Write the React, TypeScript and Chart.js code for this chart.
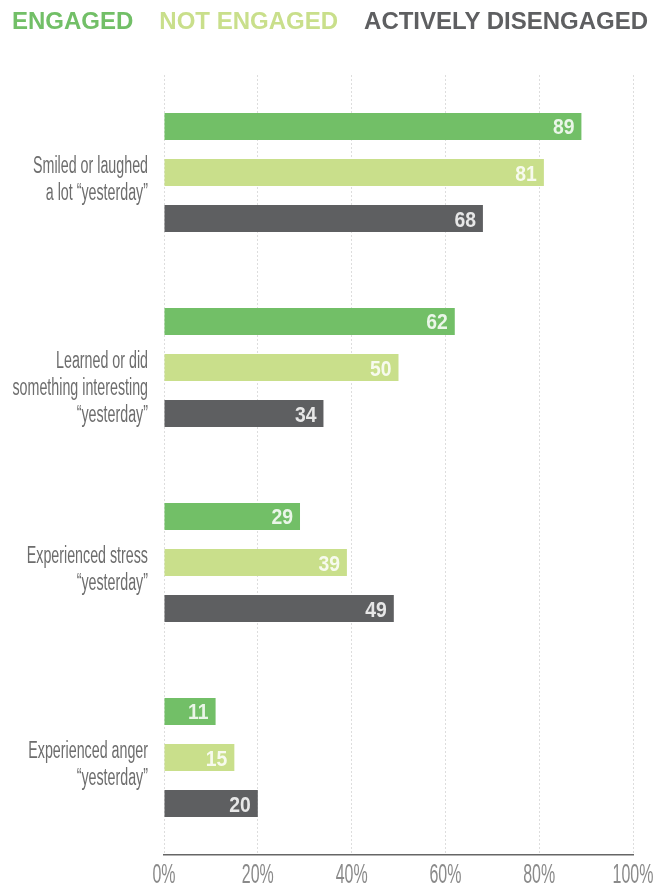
import React, { useEffect, useRef } from "react";
import { Chart, registerables } from "chart.js";

Chart.register(...registerables);

const categories: string[][] = [
  ["Smiled or laughed", "a lot \u201cyesterday\u201d"],
  ["Learned or did", "something interesting", "\u201cyesterday\u201d"],
  ["Experienced stress", "\u201cyesterday\u201d"],
  ["Experienced anger", "\u201cyesterday\u201d"],
];
const engaged = [89, 62, 29, 11];
const notEngaged = [81, 50, 39, 15];
const activelyDisengaged = [68, 34, 49, 20];
const seriesNames = ["ENGAGED", "NOT ENGAGED", "ACTIVELY DISENGAGED"];
const seriesColors = ["#72BF67", "#C9DF8B", "#5E5F61"];
const xTicks = [0, 20, 40, 60, 80, 100];

const SANS = "'Liberation Sans', Arial, sans-serif";

function drawNarrow(ctx: any, text: string, x: number, y: number, align: string, sx: number) {
  ctx.save();
  ctx.translate(x, y);
  ctx.scale(sx, 1);
  ctx.textAlign = align;
  ctx.textBaseline = "alphabetic";
  ctx.fillText(text, 0, 0);
  ctx.restore();
}

const textPlugin = {
  id: "textPlugin",
  afterDatasetsDraw(chart: any) {
    const ctx = chart.ctx;
    ctx.save();
    // value labels
    ctx.font = `bold 22px ${SANS}`;
    ctx.fillStyle = "rgba(255,255,255,0.85)";
    chart.data.datasets.forEach((ds: any, di: number) => {
      const meta = chart.getDatasetMeta(di);
      meta.data.forEach((bar: any, i: number) => {
        drawNarrow(ctx, String(ds.data[i]), bar.x - 7, bar.y + 8, "right", 0.88);
      });
    });
    // y category labels
    const yScale = chart.scales.y;
    ctx.font = `23px ${SANS}`;
    ctx.fillStyle = "#6d6d6d";
    categories.forEach((lines, i) => {
      const cy = yScale.getPixelForValue(i);
      lines.forEach((line, li) => {
        drawNarrow(ctx, line, 148, cy + li * 27, "right", 0.62);
      });
    });
    // x tick labels
    const xScale = chart.scales.x;
    ctx.font = `28px ${SANS}`;
    ctx.fillStyle = "#8a8a8a";
    xTicks.forEach((v) => {
      drawNarrow(ctx, v + "%", xScale.getPixelForValue(v), 883, "center", 0.57);
    });
    ctx.restore();
  },
};

export default function App() {
  const ref = useRef<HTMLCanvasElement | null>(null);
  useEffect(() => {
    document.body.style.margin = "0";
    const chart = new Chart(ref.current!, {
      type: "bar",
      data: {
        labels: categories,
        datasets: [engaged, notEngaged, activelyDisengaged].map((d, i) => ({
          label: seriesNames[i],
          data: d,
          backgroundColor: seriesColors[i],
          borderWidth: 0,
          categoryPercentage: 0.708,
          barPercentage: 0.587,
        })),
      },
      options: {
        indexAxis: "y",
        responsive: false,
        animation: false,
        devicePixelRatio: 1,
        layout: { padding: { top: 75, right: 32, bottom: 0, left: 0 } },
        plugins: {
          legend: { display: false },
          tooltip: { enabled: false },
        },
        scales: {
          x: {
            min: 0,
            max: 100,
            afterBuildTicks: (scale: any) => {
              scale.ticks = xTicks.map((v) => ({ value: v }));
            },
            afterFit: (scale: any) => {
              scale.height = 31;
            },
            ticks: { display: false },
            grid: {
              color: "#dddddd",
              lineWidth: 1,
              drawTicks: false,
            },
            border: { display: true, color: "#666666", width: 1.5, dash: [2, 2] },
          },
          y: {
            afterFit: (scale: any) => {
              scale.width = 164;
            },
            ticks: { display: false },
            grid: { display: false, drawTicks: false },
            border: { display: false },
          },
        },
      },
      plugins: [textPlugin],
    });
    return () => chart.destroy();
  }, []);

  return (
    <div style={{ position: "absolute", left: 0, top: 0, width: 665, height: 886, background: "#fff" }}>
      <canvas ref={ref} width={665} height={886} style={{ position: "absolute", left: 0, top: 0 }} />
      <div
        style={{
          position: "absolute",
          left: 12,
          top: 6,
          fontFamily: SANS,
          fontWeight: "bold",
          fontSize: 24,
          whiteSpace: "nowrap",
          lineHeight: "30px",
        }}
      >
        {seriesNames.map((n, i) => (
          <span key={n} style={{ color: seriesColors[i], marginRight: i < 2 ? 26 : 0 }}>
            {n}
          </span>
        ))}
      </div>
    </div>
  );
}
